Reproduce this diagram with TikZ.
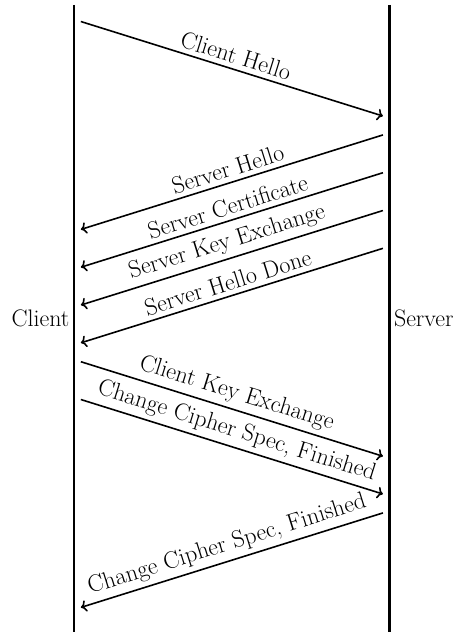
\documentclass[tikz,border=0pt]{standalone}
\usepackage{tikz}
\usetikzlibrary{arrows.meta}
\usetikzlibrary{calc,positioning}

\begin{document}
\begin{tikzpicture}[font=\fontsize{18}{22}\selectfont,
	msg/.style={->,line width=1.2pt},
	etiq/.style={above,sloped,midway},
	vida/.style={line width=1.8pt}]
	\useasboundingbox (0,0) rectangle (12.12,16.72);

% lineas de vida
	\coordinate (ct) at (1.96,16.59);
	\coordinate (cb) at (1.96,0);
	\coordinate (st) at (10.30,16.59);
	\coordinate (sb) at (10.30,0);
	\draw[vida] (ct) -- (cb);
	\draw[vida] (st) -- (sb);
	\node[left] (client) at ($(ct)!0.5!(cb)$) {Client};
	\node[right] (server) at ($(st)!0.5!(sb)$) {Server};

% mensajes cliente -> servidor
	\foreach \y/\txt [count=\i] in {16.15/Client Hello, 7.15/Client Key Exchange, 6.15/{Change Cipher Spec, Finished}}{
		\coordinate (ca\i) at (2.14,\y);
		\coordinate (sa\i) at (10.13,{\y-2.5});
		\draw[msg] (ca\i) -- node[etiq] {\txt} (sa\i);
	}

% mensajes servidor -> cliente
	\foreach \y/\txt [count=\i] in {13.15/Server Hello, 12.15/Server Certificate, 11.15/Server Key Exchange, 10.15/Server Hello Done, 3.15/{Change Cipher Spec, Finished}}{
		\coordinate (sb\i) at (10.13,\y);
		\coordinate (cb\i) at (2.14,{\y-2.5});
		\draw[msg] (sb\i) -- node[etiq] {\txt} (cb\i);
	}
\end{tikzpicture}
\end{document}
